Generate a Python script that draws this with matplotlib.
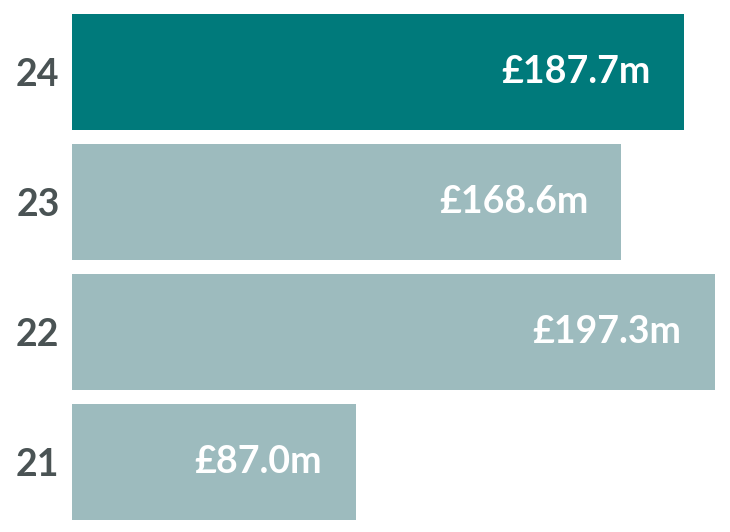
import matplotlib.pyplot as plt

# data
years = ["21", "22", "23", "24"]
values = [87.0, 197.3, 168.6, 187.7]
labels = ["£87.0m", "£197.3m", "£168.6m", "£187.7m"]
colors = ["#9dbbbe", "#9dbbbe", "#9dbbbe", "#007a7b"]

plt.rcParams["font.family"] = ["Lato", "DejaVu Sans"]

fig = plt.figure(figsize=(7.3, 5.32), dpi=100)
ax = fig.add_axes([72 / 730, 0, 658 / 730, 1])

pos = list(range(len(years)))
ax.barh(pos, values, height=0.89, color=colors)

for p, v, t in zip(pos, values, labels):
    ax.annotate(t, xy=(v, p), xytext=(-24, 0), textcoords="offset points",
                ha="right", va="center", color="white",
                fontsize=27, fontweight="bold")

ax.set_xlim(0, 197.3 * 658 / 643)
ax.set_ylim(-70 / 130, 3 + 72 / 130)
ax.set_yticks(pos)
ax.set_yticklabels(years, fontsize=27, fontweight="bold", color="#4a5354")
ax.tick_params(axis="y", length=0, pad=9)
ax.set_xticks([])
for s in ax.spines.values():
    s.set_visible(False)

plt.savefig("out.png", dpi=100)
